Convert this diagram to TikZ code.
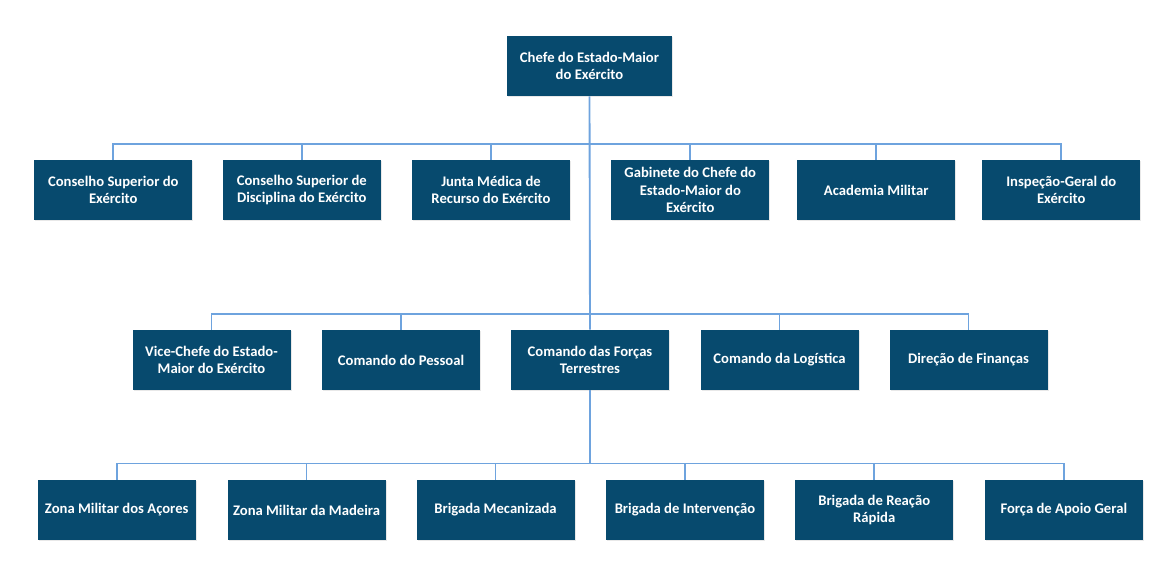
\documentclass[tikz,border=0pt]{standalone}
\usepackage{fontspec}
\setmainfont{Carlito}
\usepackage{tikz}
\usetikzlibrary{
    positioning, calc, shadows
}
\definecolor{unitblue}{RGB}{7,74,110}
\definecolor{linkblue}{RGB}{110,163,222}
\tikzset{
  unit/.style={rectangle, fill=unitblue, text=white,
               minimum width=118.5pt, minimum height=45pt,
               inner sep=2pt, align=center,
               font=\fontsize{11}{13}\selectfont\bfseries,
               drop shadow={opacity=0.18, shadow xshift=0.8pt, shadow yshift=-0.8pt}},
  link/.style={draw=linkblue, line width=1.4pt},
}

\begin{document}
\begin{tikzpicture}[x=0.75pt, y=-0.75pt,
  top/.style={unit, minimum width=123.75pt},
]
  \useasboundingbox (0,0) rectangle (1170,580);

  % chefe
  \node[top] (cemge) at (589.5,66) {Chefe do Estado-Maior\\do Exército};

  % first level
  \node[unit] (cse)  at (113.3,190)  {Conselho Superior do\\Exército};
  \node[unit] (csde) at (301.8,190)  {Conselho Superior de\\Disciplina do Exército};
  \node[unit] (jmre) at (491.0,190)  {Junta Médica de\\Recurso do Exército};
  \node[unit] (gab)  at (690.3,190)  {Gabinete do Chefe do\\Estado-Maior do\\Exército};
  \node[unit] (acm)  at (876.2,190)  {Academia Militar};
  \node[unit] (ige)  at (1061.3,190) {Inspeção-Geral do\\Exército};

  % second level
  \node[unit] (vcemge) at (211.5,360) {Vice-Chefe do Estado-\\Maior do Exército};
  \node[unit] (cmdp)   at (401.0,360) {Comando do Pessoal};
  \node[unit] (cft)    at (590.0,360) {Comando das Forças\\Terrestres};
  \node[unit] (cmdl)   at (779.5,360) {Comando da Logística};
  \node[unit] (dfin)   at (968.5,360) {Direção de Finanças};

  % third level
  \node[unit] (zmac)  at (116.7,510)  {Zona Militar dos Açores};
  \node[unit] (zmmad) at (306.5,510)  {Zona Militar da Madeira};
  \node[unit] (brimec) at (495.5,510) {Brigada Mecanizada};
  \node[unit] (brint) at (685.0,510)  {Brigada de Intervenção};
  \node[unit] (brrr)  at (874.2,510)  {Brigada de Reação\\Rápida};
  \node[unit] (fag)   at (1063.8,510) {Força de Apoio Geral};

  \coordinate (busa) at (590,144);
  \coordinate (busb) at (590,314);
  \coordinate (busc) at (590,463.5);

  \draw[link] (cemge.south) -- (cft.north);
  \foreach \u in {cse, csde, jmre, gab, acm, ige}
    \draw[link] (busa) -| (\u.north);
  \foreach \u in {vcemge, cmdp, cmdl, dfin}
    \draw[link] (busb) -| (\u.north);
  \draw[link] (cft.south) -- (busc);
  \foreach \u in {zmac, zmmad, brimec, brint, brrr, fag}
    \draw[link] (busc) -| (\u.north);

\end{tikzpicture}
\end{document}
